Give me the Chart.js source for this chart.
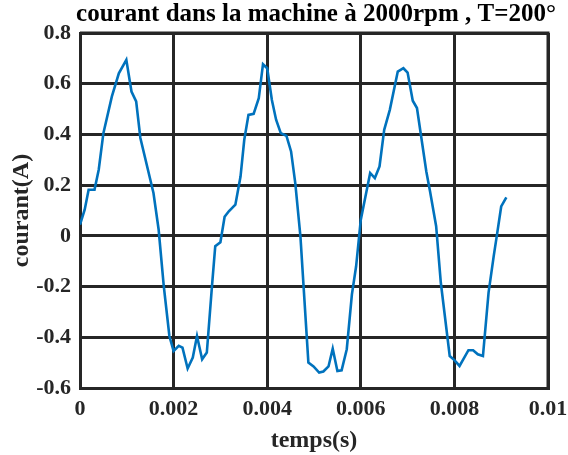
<!DOCTYPE html>
<html><head><meta charset="utf-8">
<script src="https://cdn.jsdelivr.net/npm/chart.js@4"></script>
<style>html,body{margin:0;padding:0;background:#fff}#w{width:568px;height:455px}</style>
</head><body><div id="w"><canvas id="c" width="568" height="455"></canvas></div>
<script>
const chartTitle = "courant dans la machine à 2000rpm , T=200°";
const xTitle = "temps(s)";
const yTitle = "courant(A)";
const xTicks = [0, 0.002, 0.004, 0.006, 0.008, 0.01];
const yTicks = [-0.6, -0.4, -0.2, 0, 0.2, 0.4, 0.6, 0.8];
const timeS = [0,0.0001,0.000184,0.00031,0.0004,0.0005,0.00068,0.00083,0.00099,0.0011,0.0012,0.00129,0.00157,0.00168,0.00179,0.00191,0.002,0.00211,0.00219,0.0023,0.00241,0.0025,0.00261,0.00271,0.00282,0.00289,0.003,0.00309,0.00318,0.00332,0.00343,0.00351,0.0036,0.00371,0.00382,0.00391,0.004,0.0041,0.00419,0.00429,0.00441,0.00451,0.0046,0.00471,0.00488,0.00499,0.00511,0.0052,0.00531,0.0054,0.0055,0.00559,0.0057,0.00581,0.0059,0.006,0.0062,0.0063,0.0064,0.0065,0.00662,0.00679,0.00691,0.007,0.00711,0.0072,0.0074,0.00748,0.00761,0.00771,0.0079,0.008,0.00811,0.0083,0.0084,0.0085,0.00861,0.00873,0.00884,0.00891,0.009,0.00911];
const courantA = [0.044,0.103,0.182,0.182,0.261,0.405,0.549,0.641,0.694,0.569,0.53,0.386,0.169,0.025,-0.198,-0.395,-0.454,-0.434,-0.441,-0.523,-0.48,-0.395,-0.487,-0.46,-0.198,-0.041,-0.025,0.075,0.097,0.123,0.234,0.379,0.477,0.481,0.543,0.677,0.661,0.536,0.458,0.405,0.395,0.333,0.208,-0.002,-0.5,-0.515,-0.539,-0.535,-0.515,-0.445,-0.533,-0.53,-0.447,-0.231,-0.12,0.064,0.248,0.228,0.274,0.418,0.497,0.648,0.661,0.644,0.533,0.504,0.254,0.175,0.038,-0.185,-0.474,-0.49,-0.513,-0.451,-0.451,-0.467,-0.474,-0.224,-0.08,0.005,0.116,0.152];

const FONT = "'Liberation Serif','Times New Roman',serif";
const pts = timeS.map((t,i)=>({x:t,y:courantA[i]}));
const titlePlugin = {
  id:'topTitle',
  afterDraw(chart){
    const ctx = chart.ctx; const a = chart.chartArea;
    ctx.save();
    ctx.font = "bold 25px " + FONT;
    ctx.fillStyle = '#000'; ctx.textAlign='center'; ctx.textBaseline='middle';
    ctx.fillText(chartTitle, (a.left+a.right)/2 + 2, 15);
    ctx.restore();
  }
};
new Chart(document.getElementById('c'), {
  type:'line',
  data:{datasets:[{data:pts,borderColor:'#0072BD',borderWidth:2.6,pointRadius:0,tension:0,fill:false}]},
  options:{
    responsive:false, animation:false,
    layout:{padding:{top:33,right:20,left:0,bottom:0}},
    plugins:{legend:{display:false},tooltip:{enabled:false}},
    scales:{
      x:{type:'linear',min:0,max:0.01,
        afterBuildTicks(s){s.ticks = xTicks.map(v=>({value:v}));},
        afterFit(s){s.height = 67; s.paddingLeft = 0; s.paddingRight = 0;},
        border:{display:true,color:'#262626',width:3},
        grid:{color:'#262626',lineWidth:3,drawTicks:false},
        ticks:{padding:8,color:'#262626',font:{family:FONT,weight:'bold',size:22},maxRotation:0,
          callback:(v)=>String(v)},
        title:{display:true,text:xTitle,color:'#262626',font:{family:FONT,weight:'bold',size:24},padding:{top:3,bottom:0}}
      },
      y:{type:'linear',min:-0.6,max:0.8,
        afterBuildTicks(s){s.ticks = yTicks.map(v=>({value:v}));},
        afterFit(s){s.width = 80; s.paddingTop = 0; s.paddingBottom = 0;},
        border:{display:true,color:'#262626',width:3},
        grid:{color:'#262626',lineWidth:3,drawTicks:false},
        ticks:{padding:9,color:'#262626',font:{family:FONT,weight:'bold',size:22},
          callback:(v)=>String(Math.round(v*10)/10)},
        title:{display:true,text:yTitle,color:'#262626',font:{family:FONT,weight:'bold',size:24},padding:{top:7,bottom:0}}
      }
    }
  },
  plugins:[titlePlugin,{
    id:'rightTopBorder',
    afterDatasetsDraw(chart){
      const ctx=chart.ctx,a=chart.chartArea;
      ctx.save();ctx.strokeStyle='#262626';ctx.lineWidth=3;
      ctx.beginPath();ctx.moveTo(a.left,a.top);ctx.lineTo(a.right,a.top);ctx.lineTo(a.right,a.bottom);ctx.stroke();ctx.restore();
    }
  }]
});
</script></body></html>
